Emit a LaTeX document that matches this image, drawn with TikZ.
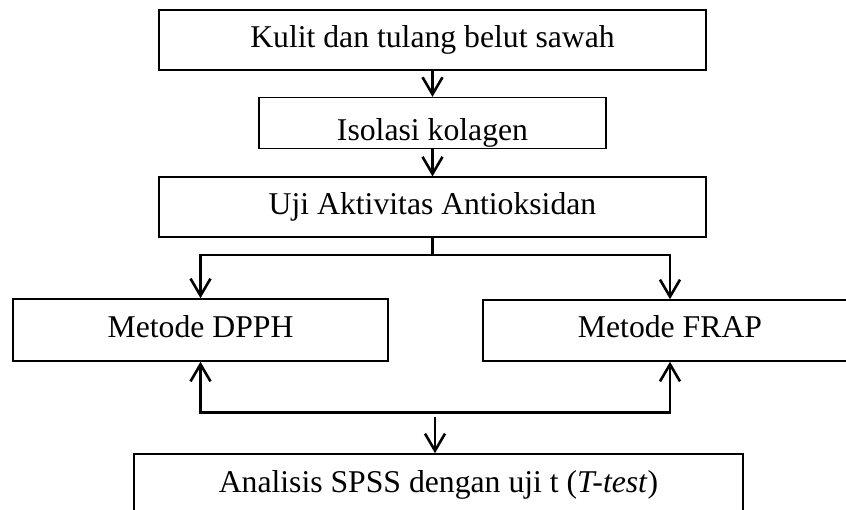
\documentclass[tikz,border=0pt]{standalone}
\usepackage{fontspec}
\setmainfont{Liberation Serif}
\usetikzlibrary{arrows.meta,positioning}
\tikzset{
  stepbox/.style={draw,line width=1.6pt,inner sep=0pt,minimum height=60pt,text height=22pt,text depth=7pt,align=center,font=\fontsize{31.7pt}{38pt}\selectfont},
  flowline/.style={line width=2.6pt},
  flowarrow/.style={flowline,-{Straight Barb[length=17pt,width=20pt]}},
  flowfork/.style={flowline,{Straight Barb[length=17pt,width=20pt]}-{Straight Barb[length=17pt,width=20pt]}}
}

\begin{document}
\begin{tikzpicture}[x=1pt,y=-1pt,node distance=26pt]
\useasboundingbox (0,0) rectangle (846,510);
\clip (0,0) rectangle (846,510);
\node[stepbox,minimum width=547pt] (kulit) at (432.5,40) {Kulit dan tulang belut sawah};
\node[stepbox,minimum width=347pt,minimum height=51pt,text height=43pt,text depth=8pt,below=of kulit] (isolasi) {Isolasi kolagen};
\node[stepbox,minimum width=547pt,below=27pt of isolasi] (uji) {Uji Aktivitas Antioksidan};
\node[stepbox,minimum width=375pt,minimum height=62pt] (dpph) at (200.5,330) {Metode DPPH};
\node[stepbox,minimum width=374pt,minimum height=61pt] (frap) at (670,330.5) {Metode FRAP};
\node[stepbox,minimum width=609pt,minimum height=62pt] (spss) at (438.5,485) {Analisis SPSS dengan uji t (\textit{T-test})};
\coordinate[below=17pt of uji] (fork);
\coordinate (topbar) at (433,255);
\coordinate (botbar) at (435,412.5);
\coordinate (join) at (435,417);
\draw[flowarrow] (kulit) -- (isolasi);
\draw[flowarrow] (isolasi) -- (uji);
\draw[flowline] (uji) -- (fork);
\draw[flowfork] (dpph.north) |- (topbar) -| (frap.north);
\draw[flowfork] (dpph.south) |- (botbar) -| (frap.south);
\draw[flowarrow] (join) -- (join |- spss.north);
\end{tikzpicture}
\end{document}
